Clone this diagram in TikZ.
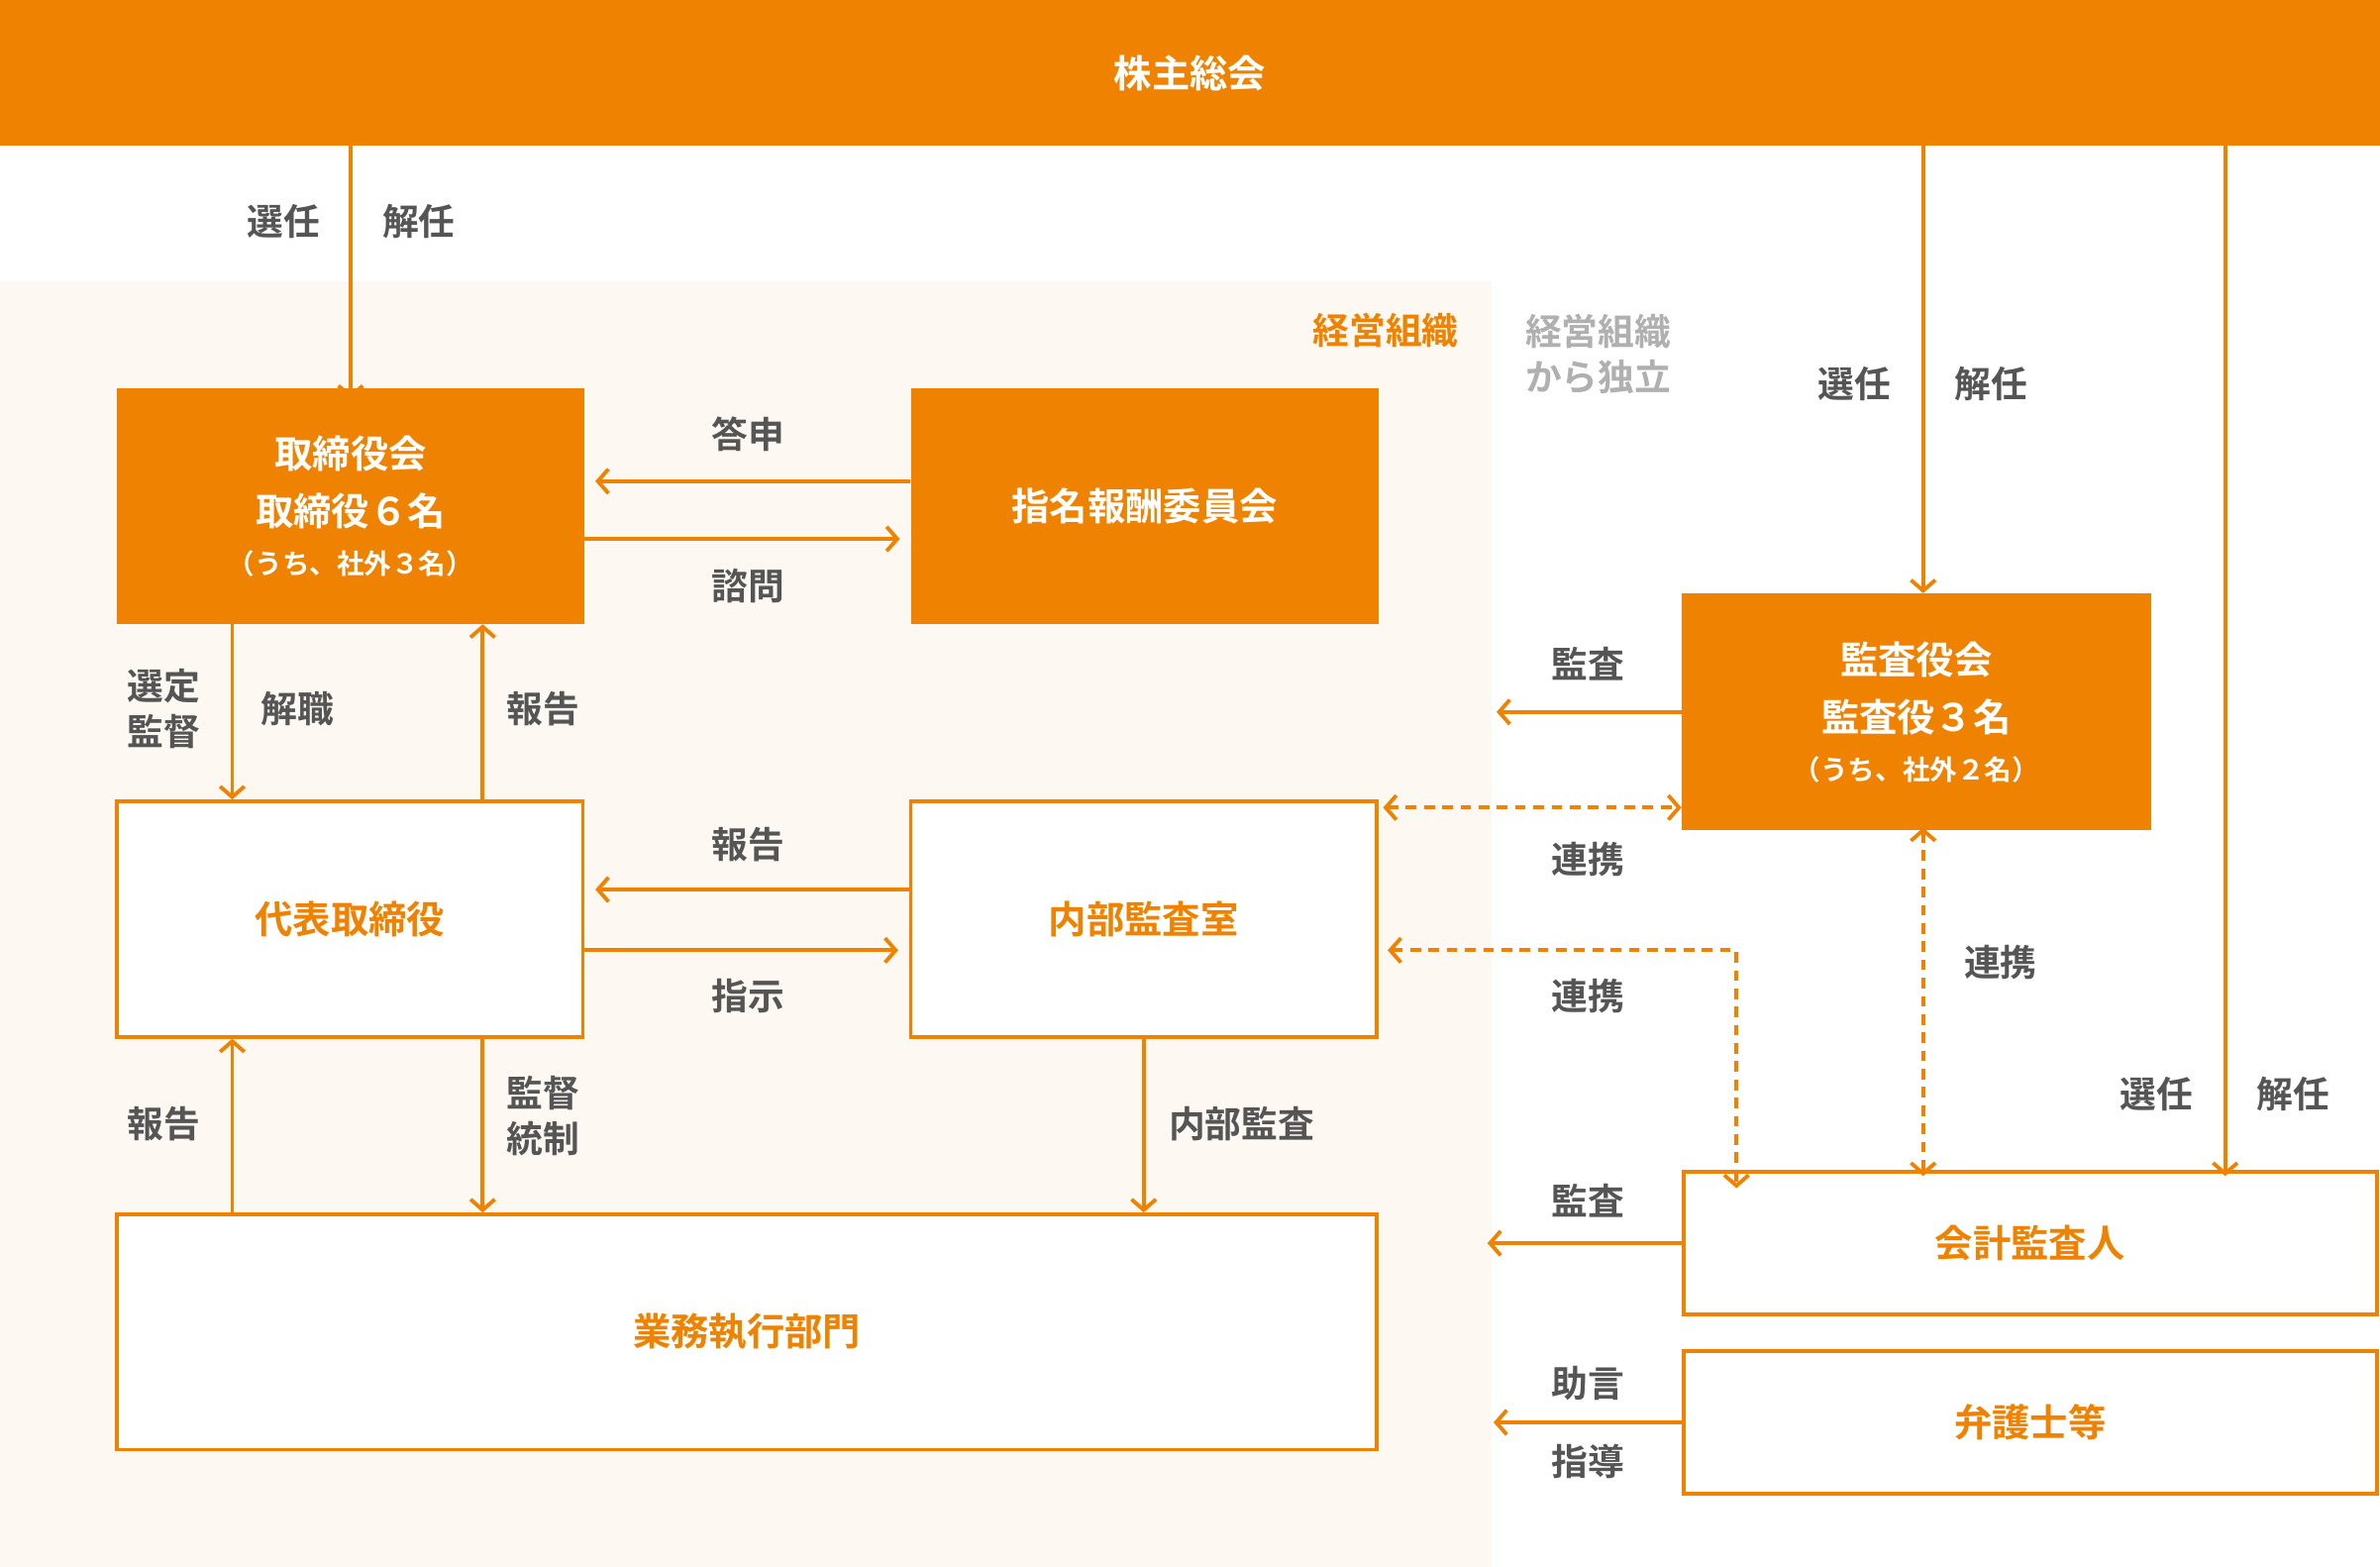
\documentclass[tikz,border=0pt]{standalone}
\usepackage{fontspec}
\setmainfont{Noto Sans CJK JP}[BoldFont={* Bold}]
\usetikzlibrary{arrows.meta}
\definecolor{og}{HTML}{EF8200}
\definecolor{bg}{HTML}{FEF8F2}
\definecolor{tx}{HTML}{555555}
\definecolor{gy}{HTML}{B0B0B0}
\begin{document}
\begin{tikzpicture}[x=1pt,y=-1pt,
 arr/.style={draw=og,line width=2.5pt,-{Straight Barb[length=7pt,width=16pt,line width=2.5pt]}},
 dar/.style={arr,{Straight Barb[length=7pt,width=16pt,line width=2.5pt]}-{Straight Barb[length=7pt,width=16pt,line width=2.5pt]},dash pattern=on 7pt off 5pt},
 lb/.style={text=tx,font=\bfseries\fontsize{24}{30}\selectfont,align=center},
 fb/.style={fill=og,text=white,font=\bfseries\fontsize{25}{38}\selectfont,align=center,inner sep=0},
 wb/.style={draw=og,line width=2.5pt,fill=white,text=og,font=\bfseries\fontsize{25}{30}\selectfont,inner sep=0}]
\useasboundingbox (0,0) rectangle (1568,1032);
\fill[white] (0,0) rectangle (1568,1032);
\fill[bg] (0,185) rectangle (983,1032);
\node[fb,minimum width=1568pt,minimum height=96pt] (bar) at (784,48) {株主総会};
\node[text=og,font=\bfseries\fontsize{24}{30}\selectfont] (keiei) at (913,218) {経営組織};
\node[text=gy,font=\bfseries\fontsize{24}{30}\selectfont,align=left] (dok) at (1053,233) {経営組織\\から独立};
\node[fb,minimum width=308pt,minimum height=155pt] (tb) at (231,333.5) {取締役会\\取締役６名\\[-6pt]{\fontsize{18}{24}\selectfont（うち、社外３名）}};
\node[fb,minimum width=308pt,minimum height=155pt] (sh) at (754,333.5) {指名報酬委員会};
\node[fb,minimum width=309pt,minimum height=156pt] (ka) at (1262.5,469) {監査役会\\監査役３名\\[-6pt]{\fontsize{18}{24}\selectfont（うち、社外２名）}};
\node[wb,minimum width=307pt,minimum height=155pt] (dh) at (230.5,605.5) {代表取締役};
\node[wb,minimum width=307pt,minimum height=155pt] (nb) at (753.5,605.5) {内部監査室};
\node[wb,minimum width=830pt,minimum height=155pt] (gy) at (492,877.5) {業務執行部門};
\node[wb,minimum width=457pt,minimum height=94pt] (kk) at (1337.5,819) {会計監査人};
\node[wb,minimum width=457pt,minimum height=94pt] (bg2) at (1337.5,937) {弁護士等};
% top arrows
\draw[arr] (bar.south -| 231,0) -- ([yshift=-7pt]tb.north);
\node[lb] at (187,146) {選任}; \node[lb] at (276,146) {解任};
\draw[arr] (bar.south -| 1267,0) -- (ka.north -| 1267,0);
\node[lb] at (1222,253) {選任}; \node[lb] at (1312,253) {解任};
\draw[arr] (bar.south -| 1466,0) -- ([yshift=-4pt]kk.north -| 1466,0);
\node[lb] at (1421,721) {選任}; \node[lb] at (1511,721) {解任};
% tb <-> sh
\draw[arr] (sh.west |- 0,317) -- ([xshift=7pt]tb.east |- 0,317);
\node[lb] at (493,286) {答申};
\draw[arr] (tb.east |- 0,355) -- ([xshift=-7pt]sh.west |- 0,355);
\node[lb] at (493,386) {諮問};
% tb <-> dh
\draw[arr] (tb.south -| 153,0) -- (dh.north -| 153,0);
\node[lb,align=left] at (108,467) {選定\\監督}; \node[lb] at (196,467) {解職};
\draw[arr] (dh.north -| 318,0) -- (tb.south -| 318,0);
\node[lb] at (358,467) {報告};
% dh <-> nb
\draw[arr] (nb.west |- 0,586) -- ([xshift=7pt]dh.east |- 0,586);
\node[lb] at (493,556) {報告};
\draw[arr] (dh.east |- 0,626) -- ([xshift=-7pt]nb.west |- 0,626);
\node[lb] at (493,656) {指示};
% to gy
\draw[arr] (dh.south -| 318,0) -- (gy.north -| 318,0);
\node[lb,align=left] at (358,735) {監督\\統制};
\draw[arr] (gy.north -| 153,0) -- (dh.south -| 153,0);
\node[lb] at (108,740) {報告};
\draw[arr] (nb.south) -- (gy.north -| nb.south);
\node[lb] at (818,740) {内部監査};
% ka
\draw[arr] (ka.west) -- (986,469);
\node[lb] at (1046,437) {監査};
\draw[dar] ([xshift=3pt]nb.east |- 0,532) -- (ka.west |- 0,532);
\node[lb] at (1046,566) {連携};
\coordinate (c1) at (1144,626);
\draw[dar] ([xshift=6pt]nb.east |- 0,626) -- (c1) -- ([yshift=-12pt]kk.north -| c1);
\node[lb] at (1046,656) {連携};
\draw[dar] ([yshift=2pt]ka.south -| 1267,0) -- ([yshift=-4pt]kk.north -| 1267,0);
\node[lb] at (1318,634) {連携};
\draw[arr] (kk.west) -- (980,819);
\node[lb] at (1046,791) {監査};
\draw[arr] (bg2.west) -- (984,937);
\node[lb] at (1046,911) {助言}; \node[lb] at (1046,963) {指導};
\end{tikzpicture}
\end{document}
